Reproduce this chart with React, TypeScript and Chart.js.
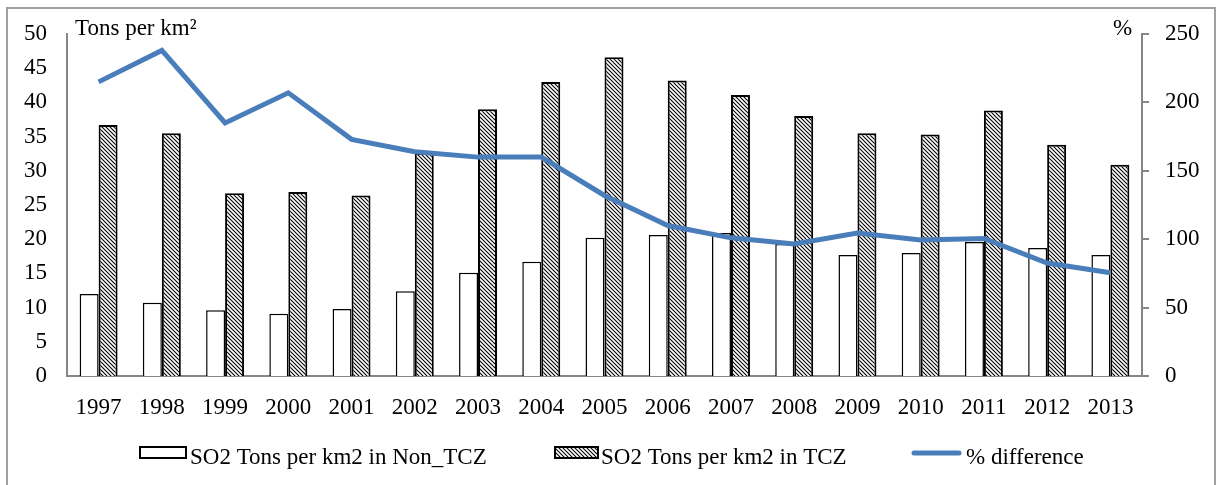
import React, { useEffect, useRef } from 'react';
import { Chart, registerables } from 'chart.js';

Chart.register(...registerables);

const years = ['1997', '1998', '1999', '2000', '2001', '2002', '2003', '2004', '2005', '2006', '2007', '2008', '2009', '2010', '2011', '2012', '2013'];
const nonTCZ = [12.0, 10.7, 9.6, 9.1, 9.8, 12.4, 15.1, 16.7, 20.2, 20.6, 20.9, 19.3, 17.7, 18.0, 19.6, 18.7, 17.7];
const tcz = [36.7, 35.5, 26.7, 26.9, 26.4, 32.6, 39.0, 43.0, 46.6, 43.2, 41.1, 38.0, 35.5, 35.3, 38.8, 33.8, 30.9];
const pctDiff = [215, 238, 185, 207, 173, 164, 160, 160, 132, 110, 101, 96.5, 104.5, 99.4, 100.5, 82.6, 75.5];
const leftTicks = { min: 0, max: 50, step: 5 };
const rightTicks = { min: 0, max: 250, step: 50 };
const labels = ['SO2 Tons per km2 in Non_TCZ', 'SO2 Tons per km2 in TCZ', '% difference'];
const leftTitle = 'Tons per km\u00B2';
const rightTitle = '%';

const FONT = '"Liberation Serif", "Times New Roman", serif';
const AXIS_GRAY = '#868686';
const BLUE = '#4a7ebb';

function makeHatch(ctx: CanvasRenderingContext2D) {
  const c = document.createElement('canvas');
  c.width = 4;
  c.height = 4;
  const x = c.getContext('2d')!;
  x.fillStyle = '#ffffff';
  x.fillRect(0, 0, 4, 4);
  x.strokeStyle = '#000000';
  x.lineWidth = 1.1;
  x.beginPath();
  x.moveTo(-1, -1);
  x.lineTo(5, 5);
  x.moveTo(-1, 3);
  x.lineTo(1, 5);
  x.moveTo(3, -1);
  x.lineTo(5, 1);
  x.stroke();
  return ctx.createPattern(c, 'repeat')!;
}

export default function App() {
  const ref = useRef<HTMLCanvasElement | null>(null);

  useEffect(() => {
    const canvas = ref.current!;
    const ctx = canvas.getContext('2d')!;
    const hatch = makeHatch(ctx);

    const overlay = {
      id: 'overlay',
      afterDraw(chart: any) {
        const c = chart.ctx as CanvasRenderingContext2D;
        c.save();
        c.fillStyle = '#000';
        c.font = `23px ${FONT}`;
        c.textBaseline = 'alphabetic';
        c.textAlign = 'left';
        c.fillText(leftTitle, 67, 26);
        c.fillText(rightTitle, 1105, 26);

        // legend
        const ly = 438;
        c.fillStyle = '#fff';
        c.fillRect(132, ly, 46, 11);
        c.strokeStyle = '#000';
        c.lineWidth = 2;
        c.strokeRect(132, ly, 46, 11);
        c.fillStyle = '#000';
        c.fillText(labels[0], 182, 455);

        c.fillStyle = hatch;
        c.fillRect(547, ly, 43, 11);
        c.strokeRect(547, ly, 43, 11);
        c.fillStyle = '#000';
        c.fillText(labels[1], 593, 455);

        c.strokeStyle = BLUE;
        c.lineWidth = 5;
        c.lineCap = 'round';
        c.beginPath();
        c.moveTo(906, 444);
        c.lineTo(951, 444);
        c.stroke();
        c.fillStyle = '#000';
        c.fillText(labels[2], 958, 455);
        c.restore();
      },
    };

    const fitY = (w: number) => (s: any) => {
      s.width = w;
      s.paddingTop = 0;
      s.paddingBottom = 0;
    };

    const chart = new Chart(ctx, {
      type: 'bar',
      data: {
        labels: years,
        datasets: [
          {
            type: 'line',
            label: labels[2],
            data: pctDiff,
            yAxisID: 'y1',
            borderColor: BLUE,
            borderWidth: 5,
            pointRadius: 0,
            tension: 0,
            order: 0,
          } as any,
          {
            type: 'bar',
            label: labels[0],
            data: nonTCZ,
            yAxisID: 'y',
            backgroundColor: '#ffffff',
            borderColor: '#000000',
            borderWidth: 1.5,
            categoryPercentage: 0.6,
            barPercentage: 1.0,
            order: 1,
          },
          {
            type: 'bar',
            label: labels[1],
            data: tcz,
            yAxisID: 'y',
            backgroundColor: hatch as any,
            borderColor: '#000000',
            borderWidth: 2,
            categoryPercentage: 0.6,
            barPercentage: 1.0,
            order: 1,
          },
        ],
      },
      options: {
        responsive: false,
        animation: false,
        layout: { padding: { left: 0, right: 0, top: 25, bottom: 58 } },
        plugins: {
          legend: { display: false },
          tooltip: { enabled: false },
          title: { display: false },
        },
        scales: {
          x: {
            grid: { display: false, drawTicks: false },
            border: { display: true, color: AXIS_GRAY, width: 2 },
            ticks: { color: '#000', font: { family: FONT, size: 23 }, padding: 18, maxRotation: 0, autoSkip: false },
            afterFit: (s: any) => { s.height = 45; s.paddingLeft = 0; s.paddingRight = 0; },
          },
          y: {
            position: 'left',
            min: leftTicks.min,
            max: leftTicks.max,
            grid: { display: false, drawTicks: false },
            border: { display: true, color: AXIS_GRAY, width: 2 },
            ticks: { stepSize: leftTicks.step, color: '#000', font: { family: FONT, size: 23 }, padding: 20 },
            afterFit: fitY(59),
          },
          y1: {
            position: 'right',
            min: rightTicks.min,
            max: rightTicks.max,
            grid: { display: true, drawOnChartArea: false, drawTicks: true, tickLength: 7, color: AXIS_GRAY, lineWidth: 2 },
            border: { display: true, color: AXIS_GRAY, width: 2 },
            ticks: { stepSize: rightTicks.step, color: '#000', font: { family: FONT, size: 23 }, padding: 16 },
            afterFit: fitY(72),
          },
        },
      },
      plugins: [overlay],
    });
    return () => chart.destroy();
  }, []);

  return (
    <div
      style={{
        position: 'absolute',
        left: 6,
        top: 7,
        width: 1206,
        height: 490,
        borderTop: '2px solid #a0a0a0',
        borderLeft: '2px solid #a0a0a0',
        borderRight: '2px solid #a0a0a0',
        background: '#fff',
      }}
    >
      <canvas ref={ref} width={1206} height={470} style={{ display: 'block', width: 1206, height: 470 }} />
    </div>
  );
}
